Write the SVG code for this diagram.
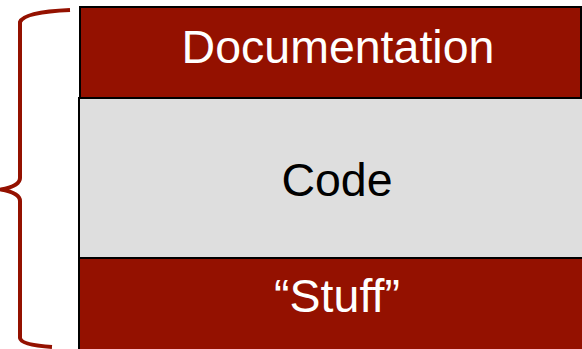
<svg xmlns="http://www.w3.org/2000/svg" width="582" height="349" viewBox="0 0 582 349">
<style>
.red{fill:#941100;stroke:#000;stroke-width:2}
.gray{fill:#dedede;stroke:#000;stroke-width:2}
.t{font-family:"Liberation Sans",Arial,sans-serif;font-size:46.5px;text-anchor:middle}
.w{fill:#fff}
.k{fill:#000}
.brace{fill:none;stroke:#941100;stroke-width:4;stroke-linejoin:round}
</style>
<rect width="582" height="349" fill="#fff"/>
<g id="connectors">
<path class="brace" d="M70,10 Q24,12 20,22 L20,178 Q20,186 1,189.5 Q20,193 20,201 L20,338 Q21,345 52,347"/>
</g>
<g id="stuff">
<rect class="red" x="79" y="258" width="520" height="110"/>
<text class="t w" x="337" y="312">“Stuff”</text>
</g>
<g id="code">
<rect class="gray" x="79" y="98" width="520" height="160"/>
<text class="t k" x="337" y="196">Code</text>
</g>
<g id="documentation">
<rect class="red" x="80" y="7" width="501" height="91"/>
<text class="t w" x="338" y="63">Documentation</text>
</g>
</svg>
